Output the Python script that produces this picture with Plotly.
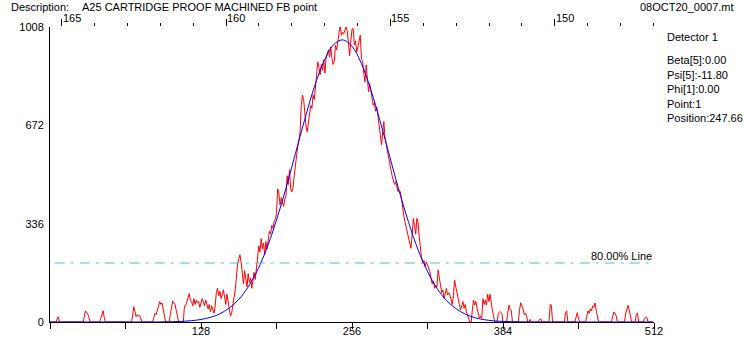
import plotly.graph_objects as go

# ---------------- data ----------------
channels = list(range(512))
counts = [
    0, 0, 0, 0, 0, 0, 10, 18, 0, 0, 0, 0, 0, 0, 0, 0,
    0, 0, 0, 0, 0, 0, 0, 0, 0, 0, 0, 0, 0, 15, 38, 32,
    28, 15, 0, 0, 0, 0, 0, 0, 0, 0, 0, 12, 30, 38, 15, 0,
    0, 0, 0, 0, 0, 0, 0, 0, 0, 0, 0, 0, 0, 0, 0, 0,
    0, 0, 0, 0, 0, 0, 20, 52, 35, 18, 25, 20, 22, 8, 0, 0,
    0, 0, 0, 0, 0, 0, 0, 0, 15, 30, 25, 45, 55, 70, 60, 65,
    40, 20, 0, 0, 0, 0, 25, 55, 72, 65, 60, 40, 20, 0, 0, 0,
    0, 0, 55, 55, 68, 85, 97, 75, 70, 55, 80, 60, 75, 65, 70, 50,
    65, 80, 70, 55, 75, 60, 45, 60, 35, 55, 40, 30, 55, 100, 115, 90,
    105, 80, 95, 110, 85, 60, 95, 70, 40, 20, 30, 55, 90, 110, 150, 200,
    215, 230, 205, 160, 130, 175, 140, 120, 165, 135, 150, 115, 140, 170, 145, 185,
    220, 260, 240, 285, 250, 270, 230, 275, 250, 290, 310, 300, 330, 320, 345, 350,
    370, 455, 440, 400, 425, 410, 395, 420, 430, 500, 470, 520, 455, 445, 460, 500,
    540, 560, 600, 620, 650, 740, 775, 760, 700, 670, 650, 680, 720, 740, 730, 775,
    760, 800, 860, 889, 870, 845, 880, 860, 895, 850, 900, 915, 930, 905, 940, 900,
    880, 890, 945, 930, 960, 1000, 1015, 980, 990, 985, 1000, 1010, 995, 950, 910, 960,
    1000, 1003, 946, 960, 923, 940, 960, 980, 900, 890, 850, 820, 878, 830, 787, 815,
    790, 760, 740, 750, 720, 735, 695, 673, 640, 605, 660, 685, 630, 605, 593, 560,
    536, 520, 500, 480, 470, 480, 460, 445, 450, 445, 420, 377, 360, 340, 320, 309,
    290, 270, 252, 300, 354, 331, 300, 354, 340, 290, 250, 218, 200, 210, 190, 205,
    195, 183, 172, 150, 130, 140, 115, 125, 120, 178, 150, 126, 100, 110, 81, 95,
    115, 92, 100, 92, 70, 60, 90, 143, 120, 104, 81, 60, 41, 55, 70, 47,
    60, 35, 20, 10, 0, 0, 40, 75, 58, 70, 47, 30, 13, 20, 13, 80,
    60, 75, 58, 95, 70, 95, 60, 40, 20, 0, 0, 0, 30, 34, 34, 30,
    0, 0, 0, 0, 30, 57, 45, 40, 0, 0, 0, 0, 0, 0, 40, 66,
    55, 45, 25, 30, 20, 0, 0, 9, 0, 0, 0, 0, 0, 0, 0, 9,
    11, 0, 0, 0, 0, 0, 0, 0, 60, 57, 0, 0, 0, 0, 0, 0,
    0, 0, 0, 0, 0, 31, 38, 0, 0, 0, 0, 0, 0, 0, 17, 32,
    11, 0, 0, 0, 0, 0, 0, 20, 38, 30, 45, 38, 55, 50, 65, 40,
    20, 0, 0, 0, 0, 0, 0, 0, 0, 0, 0, 0, 0, 20, 34, 30,
    20, 0, 0, 0, 0, 0, 0, 0, 30, 49, 57, 40, 20, 0, 0, 0,
    0, 26, 31, 0, 0, 0, 0, 0, 12, 17, 15, 0, 0, 0, 0, 0,
]

fit_channels = list(range(0, 512, 8)) + [511]
fit_counts = [
    0, 0, 0, 0, 0, 0, 0, 0, 0, 0, 0, 0,
    0.5, 1.1, 2.3, 4.5, 8.7, 16, 28, 48, 77, 120, 178, 254, 348, 457, 575, 693,
    802, 889, 946, 964, 942, 883, 793, 684, 565, 447, 340, 247, 173, 115, 74, 46,
    27, 15, 8, 4, 2, 1, 0.5,
    0, 0, 0, 0, 0, 0, 0, 0, 0, 0, 0, 0, 0, 0,
]

bottom_tick_vals = [0, 64, 128, 192, 256, 320, 384, 448, 512]
bottom_tick_text = ["", "", "128", "", "256", "", "384", "", "512"]
left_tick_vals = [0, 336, 672, 1008]
top_major_ticks = [165, 160, 155, 150]
top_range = [165.356, 146.98]
threshold_value = 201.6
threshold_label = "80.00% Line"

description = "A25 CARTRIDGE PROOF MACHINED FB point"
file_name = "08OCT20_0007.mt"
info_lines = ["Beta[5]:0.00", "Psi[5]:-11.80", "Phi[1]:0.00", "Point:1", "Position:247.66"]

# ---------------- figure ----------------
W, H = 744, 337
L, R, T, B = 50, 90, 27, 15
PW, PH = W - L - R, H - T - B
FONT = "Liberation Sans"


def px(xp):
    return (xp - L) / PW


def py(yp):
    return (H - B - yp) / PH


fig = go.Figure()
fig.add_trace(go.Scatter(x=channels, y=counts, mode="lines",
                         line=dict(color="#FF0000", width=1),
                         hoverinfo="skip", showlegend=False))
fig.add_trace(go.Scatter(x=fit_channels, y=fit_counts, mode="lines",
                         line=dict(color="#0000FF", width=1, shape="spline"),
                         hoverinfo="skip", showlegend=False))
fig.add_trace(go.Scatter(x=top_range, y=[0, 0], xaxis="x2", mode="markers",
                         marker=dict(opacity=0), hoverinfo="skip", showlegend=False))

fig.add_shape(type="line", xref="x", yref="y", x0=4, x1=512,
              y0=threshold_value, y1=threshold_value,
              line=dict(color="#48C4C4", width=1, dash="10px,6px,3px,6px"))

annotations = [
    dict(text=threshold_label, xref="x", yref="y", x=512, y=threshold_value,
         xanchor="right", yanchor="bottom", yshift=-1, showarrow=False),
    dict(text="Description:", xref="paper", yref="paper", x=px(9), y=py(6.5),
         xanchor="left", yanchor="middle", showarrow=False),
    dict(text=description, xref="paper", yref="paper", x=px(80), y=py(6.5),
         xanchor="left", yanchor="middle", showarrow=False),
    dict(text=file_name, xref="paper", yref="paper", x=px(736), y=py(6.5),
         xanchor="right", yanchor="middle", showarrow=False),
    dict(text="Detector 1", xref="paper", yref="paper", x=px(665), y=py(37),
         xanchor="left", yanchor="middle", showarrow=False),
]
info_y = [60, 74.5, 89, 103.5, 118]
for t, yy in zip(info_lines, info_y):
    annotations.append(dict(text=t, xref="paper", yref="paper", x=px(665), y=py(yy),
                            xanchor="left", yanchor="middle", showarrow=False))
for v in top_major_ticks:
    annotations.append(dict(text=str(v), xref="x2", yref="paper", x=v, y=1,
                            xanchor="left", yanchor="middle", xshift=-1, yshift=9.5,
                            showarrow=False))
for a in annotations:
    a["font"] = dict(family=FONT, size=11, color="black")
fig.update_layout(annotations=annotations)

fig.update_layout(
    width=W, height=H,
    margin=dict(l=L, r=R, t=T, b=B, pad=0),
    paper_bgcolor="white", plot_bgcolor="white",
    font=dict(family=FONT, size=11, color="black"),
    showlegend=False,
    xaxis=dict(range=[0, 512], tickvals=bottom_tick_vals, ticktext=bottom_tick_text,
               ticks="outside", ticklen=6, tickcolor="black", tickwidth=1,
               showline=True, linecolor="black", linewidth=1, showgrid=False,
               zeroline=False, automargin=False, fixedrange=True,
               ticklabelstandoff=-7),
    xaxis2=dict(range=top_range, overlaying="x", side="top", anchor="y",
                tickvals=top_major_ticks, showticklabels=False,
                ticks="outside", ticklen=7, tickcolor="black", tickwidth=1,
                minor=dict(tick0=0, dtick=1, ticks="outside", ticklen=3,
                           tickcolor="black", tickwidth=1, showgrid=False),
                showline=False, showgrid=False, zeroline=False, automargin=False),
    yaxis=dict(range=[0, 1008], tickvals=left_tick_vals, ticks="",
               showline=True, linecolor="black", linewidth=1, showgrid=False,
               zeroline=False, automargin=False, ticklabelstandoff=3),
)

fig.write_html("out.html",
               config={"displayModeBar": False},
               post_script="document.body.style.margin='0';document.body.style.overflow='hidden';")
